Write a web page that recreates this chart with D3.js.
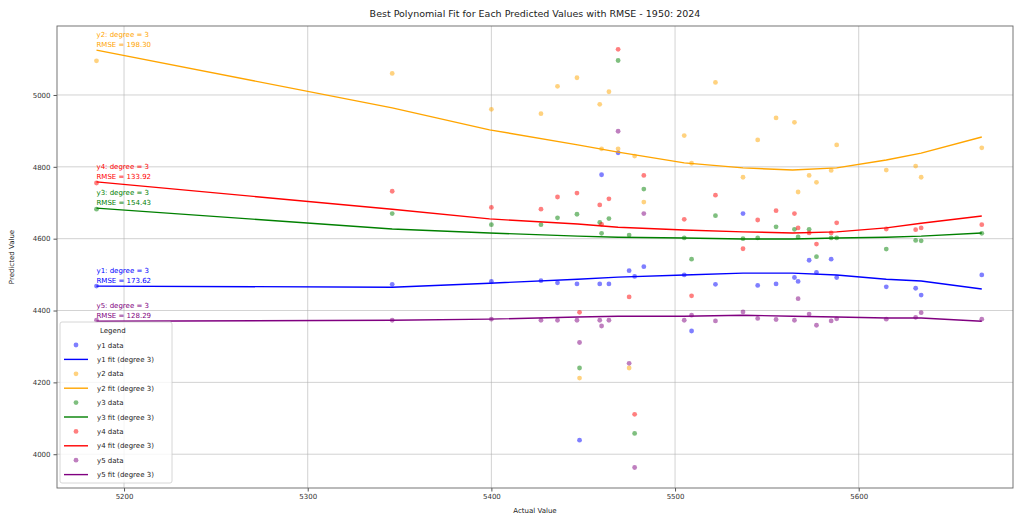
<!DOCTYPE html>
<html>
<head>
<meta charset="utf-8">
<script src="https://cdn.jsdelivr.net/npm/d3@7"></script>
<style>
  body { margin: 0; background: #fff; }
  svg { font-family: "DejaVu Sans", sans-serif; }
</style>
</head>
<body>
<div id="chart"></div>
<script>
// actual values (x), shared by every series
const actual = [5185, 5346, 5400, 5427, 5436, 5446.6, 5448, 5459, 5460, 5464,
  5469, 5475, 5478, 5483, 5505, 5509, 5522, 5537, 5545, 5555,
  5565, 5567, 5573, 5577, 5585, 5588, 5615, 5631, 5634, 5667];

// predicted values per series
const y1 = [4468, 4473, 4481, 4483, 4477, 4474, 4039, 4474, 4778, 4474,
  4839, 4511, 4495, 4522, 4499, 4343, 4473, 4670, 4470, 4474,
  4492, 4481, 4540, 4506, 4543, 4492, 4466, 4462, 4443, 4499];
const y2 = [5095, 5060, 4960, 4948, 5024, 5048, 4212, 4974, 4850, 5009,
  4850, 4240, 4830, 4702, 4887, 4810, 5035, 4771, 4875, 4936,
  4924, 4730, 4776, 4757, 4790, 4861, 4791, 4802, 4771, 4853];
const y3 = [4682, 4670, 4639, 4639, 4658, 4668, 4240, 4645, 4615, 4656,
  5096, 4610, 4058, 4738, 4602, 4543, 4664, 4600, 4602, 4633,
  4626, 4605, 4626, 4550, 4602, 4602, 4571, 4595, 4594, 4615];
const y4 = [4755, 4732, 4687, 4682, 4716, 4727, 4395, 4694, 4640, 4711,
  5127, 4438, 4111, 4776, 4654, 4441, 4721, 4572, 4652, 4678,
  4670, 4630, 4616, 4585, 4616, 4644, 4627, 4625, 4630, 4639];
const y5 = [4373, 4373, 4376, 4373, 4373, 4373, 4311, 4373, 4357, 4373,
  4899, 4253, 3963, 4670, 4373, 4387, 4371, 4396, 4378, 4375,
  4373, 4433, 4390, 4359, 4371, 4377, 4376, 4381, 4394, 4376];

// fitted curves read at a few x positions
const fitX = [5185, 5346, 5399, 5447, 5469, 5505, 5537, 5564, 5588, 5615, 5634, 5667];
const fit1 = [4468, 4465, 4476, 4487, 4493, 4499, 4504, 4504, 4499, 4487, 4482, 4460];
const fit2 = [5125, 4964, 4903, 4861, 4841, 4811, 4797, 4791, 4797, 4819, 4838, 4883];
const fit3 = [4685, 4627, 4616, 4607, 4604, 4602, 4599, 4599, 4602, 4604, 4607, 4616];
const fit4 = [4758, 4682, 4655, 4641, 4632, 4624, 4619, 4616, 4619, 4630, 4643, 4663];
const fit5 = [4370, 4373, 4376, 4382, 4384, 4384, 4387, 4384, 4382, 4379, 4379, 4370];

const names = ['y1', 'y2', 'y3', 'y4', 'y5'];
const colors = ['blue', 'orange', 'green', 'red', 'purple'];
const rmse = ['173.62', '198.30', '154.43', '133.92', '128.29'];
const xTicks = [5200, 5300, 5400, 5500, 5600];
const yTicks = [4000, 4200, 4400, 4600, 4800, 5000];

const W = 1015, H = 514;
const m = {top: 26, right: 2, bottom: 26, left: 57};

const svg = d3.select('#chart').append('svg')
  .attr('width', W).attr('height', H);

const x = d3.scaleLinear().domain([5163.5, 5684]).range([m.left, W - m.right]);
const y = d3.scaleLinear().domain([3906, 5192]).range([H - m.bottom, m.top]);

// grid
const g = svg.append('g');
g.selectAll('.gx').data(xTicks).enter().append('line')
  .attr('x1', d => x(d)).attr('x2', d => x(d))
  .attr('y1', m.top).attr('y2', H - m.bottom)
  .attr('stroke', '#b0b0b0').attr('stroke-width', 0.8).attr('opacity', 0.7);
g.selectAll('.gy').data(yTicks).enter().append('line')
  .attr('x1', m.left).attr('x2', W - m.right)
  .attr('y1', d => y(d)).attr('y2', d => y(d))
  .attr('stroke', '#b0b0b0').attr('stroke-width', 0.8).attr('opacity', 0.7);

// axes
const xAxis = svg.append('g')
  .attr('transform', `translate(0,${H - m.bottom})`)
  .call(d3.axisBottom(x).tickValues(xTicks).tickSize(3.5).tickPadding(3).tickFormat(d3.format('d')));
const yAxis = svg.append('g')
  .attr('transform', `translate(${m.left},0)`)
  .call(d3.axisLeft(y).tickValues(yTicks).tickSize(3.5).tickPadding(3).tickFormat(d3.format('d')));
[xAxis, yAxis].forEach(a => {
  a.selectAll('text').attr('font-size', 7).attr('fill', '#333').attr('font-family', 'DejaVu Sans');
  a.selectAll('.tick line').attr('stroke', '#555');
  a.select('.domain').remove();
});

// frame
svg.append('rect')
  .attr('x', m.left).attr('y', m.top)
  .attr('width', W - m.right - m.left).attr('height', H - m.bottom - m.top)
  .attr('fill', 'none').attr('stroke', '#666').attr('stroke-width', 0.9);

const series = [y1, y2, y3, y4, y5];
const fits = [fit1, fit2, fit3, fit4, fit5];
const line = d3.line().x((d, i) => x(fitX[i])).y(d => y(d));

series.forEach((s, k) => {
  svg.append('g').selectAll('circle').data(s).enter().append('circle')
    .attr('cx', (d, i) => x(actual[i])).attr('cy', d => y(d))
    .attr('r', 2.4).attr('fill', colors[k]).attr('opacity', 0.5);
  svg.append('path').datum(fits[k])
    .attr('d', line).attr('fill', 'none')
    .attr('stroke', colors[k]).attr('stroke-width', 1.4);
});

// annotations at the start of each fit
fits.forEach((f, k) => {
  const ax = x(fitX[0]), ay = y(f[0]);
  const t = svg.append('text').attr('font-size', 7).attr('fill', colors[k]);
  t.append('tspan').attr('x', ax).attr('y', ay - 13).text(`${names[k]}: degree = 3`);
  t.append('tspan').attr('x', ax).attr('y', ay - 3).text(`RMSE = ${rmse[k]}`);
});

// legend
const lg = svg.append('g').attr('transform', 'translate(60,322)');
lg.append('rect').attr('width', 112).attr('height', 161).attr('rx', 2)
  .attr('fill', 'white').attr('fill-opacity', 0.8)
  .attr('stroke', '#cccccc').attr('stroke-width', 0.8);
lg.append('text').attr('x', 40).attr('y', 10.5).attr('font-size', 7)
  .attr('fill', '#222').text('Legend');
names.forEach((n, k) => {
  const yd = 23 + k * 2 * 14.4, yf = yd + 14.4;
  lg.append('circle').attr('cx', 16).attr('cy', yd).attr('r', 2.4)
    .attr('fill', colors[k]).attr('opacity', 0.5);
  lg.append('text').attr('x', 37).attr('y', yd + 2.5).attr('font-size', 7)
    .attr('fill', '#222').text(`${n} data`);
  lg.append('line').attr('x1', 4).attr('x2', 28).attr('y1', yf).attr('y2', yf)
    .attr('stroke', colors[k]).attr('stroke-width', 1.4);
  lg.append('text').attr('x', 37).attr('y', yf + 2.5).attr('font-size', 7)
    .attr('fill', '#222').text(`${n} fit (degree 3)`);
});

// title and labels
svg.append('text').attr('x', (m.left + W - m.right) / 2).attr('y', 17)
  .attr('text-anchor', 'middle').attr('font-size', 9.5).attr('fill', '#222')
  .text('Best Polynomial Fit for Each Predicted Values with RMSE - 1950: 2024');
svg.append('text').attr('x', (m.left + W - m.right) / 2).attr('y', 513)
  .attr('text-anchor', 'middle').attr('font-size', 7).attr('fill', '#222')
  .text('Actual Value');
svg.append('text').attr('transform', `translate(14,${(m.top + H - m.bottom) / 2}) rotate(-90)`)
  .attr('text-anchor', 'middle').attr('font-size', 7).attr('fill', '#222')
  .text('Predicted Value');
</script>
</body>
</html>
